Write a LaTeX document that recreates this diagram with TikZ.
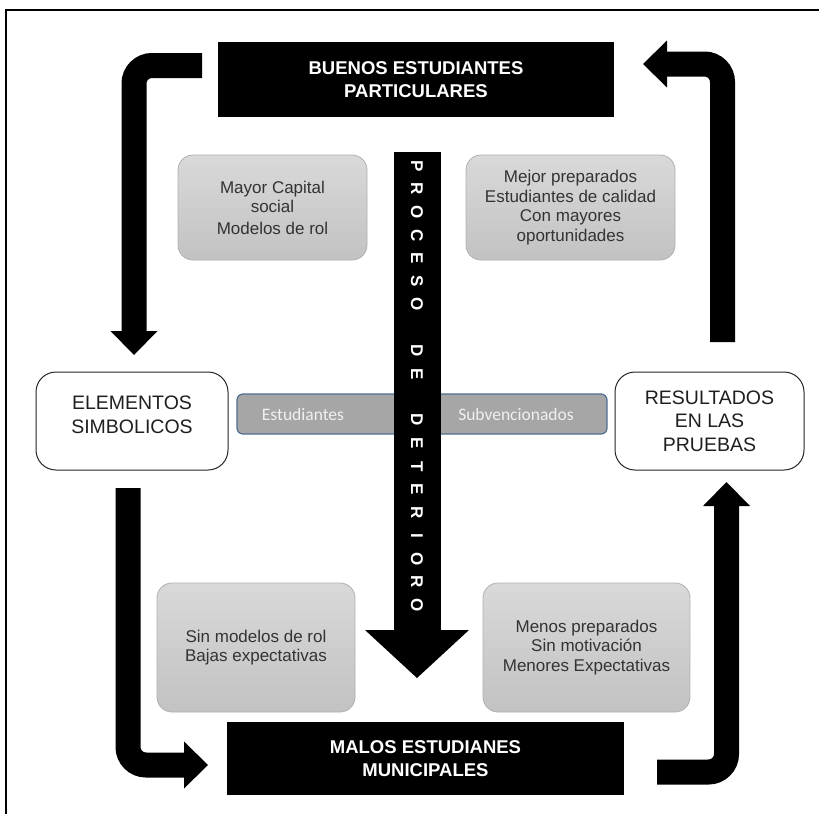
\documentclass[tikz,border=0pt]{standalone}
\usepackage{fontspec}
\setmainfont{Liberation Sans}
\newfontfamily\carl{Carlito}
\usetikzlibrary{arrows.meta}
\definecolor{graytxt}{HTML}{333333}
\definecolor{barfill}{HTML}{A6A6A6}
\definecolor{barline}{HTML}{4F6E92}
\definecolor{boxtop}{HTML}{D9D9D9}
\definecolor{boxbot}{HTML}{C2C2C2}
\definecolor{boxline}{HTML}{B0B0B0}
\definecolor{bartxt}{HTML}{F0F0F0}
\begin{document}
\begin{tikzpicture}[x=1pt,y=-1pt,
  blackbox/.style={fill=black,text=white,font=\fontsize{18.5}{23}\selectfont\bfseries,align=center,inner sep=0pt},
  whitebox/.style={draw=black!85,line width=1pt,rounded corners=20pt,fill=white,font=\fontsize{19.5}{23.5}\selectfont,text=black!88,align=center,inner sep=0pt},
  graybox/.style={draw=boxline,line width=0.8pt,rounded corners=15pt,top color=boxtop,bottom color=boxbot,font=\fontsize{17}{19.5}\selectfont,text=graytxt,align=center,inner sep=0pt},
  barbox/.style={draw=barline,line width=1.2pt,rounded corners=6pt,fill=barfill,inner sep=0pt},
  bartext/.style={font=\carl\fontsize{17.5}{20}\selectfont,text=bartxt,inner sep=0pt},
  bigarrow/.style={line width=25pt,rounded corners=18pt,-{Triangle[width=47pt,length=24pt,line width=0pt]}},
  letter/.style={font=\fontsize{17}{17}\selectfont\bfseries,text=white,rotate=-90,inner sep=0pt}
]
\useasboundingbox (0,0) rectangle (819,814);
\fill[white] (0,0) rectangle (819,814);
% outer frame
\draw[line width=2pt] (6,814) -- (6,10) -- (819,10);

% gray boxes
\node[graybox,minimum width=189pt,minimum height=105pt] (g1) at (272.5,207.5) {Mayor Capital\\social\\[2pt]Modelos de rol};
\node[graybox,minimum width=209pt,minimum height=105pt] (g2) at (570.5,207.5) {Mejor preparados\\Estudiantes de calidad\\Con mayores\\oportunidades};
\node[graybox,minimum width=198pt,minimum height=129pt] (g3) at (256,647.5) {Sin modelos de rol\\Bajas expectativas};
\node[graybox,minimum width=207pt,minimum height=129pt] (g4) at (586.5,647.5) {Menos preparados\\Sin motivación\\Menores Expectativas};

% middle bar
\node[barbox,minimum width=370pt,minimum height=40pt] (bar) at (422,414) {};
\node[bartext] (est) at (303,414) {Estudiantes};
\node[bartext] (sub) at (516,414) {Subvencionados};

% central arrow
\coordinate (c1) at (417,152);
\coordinate (c2) at (417,678);
\draw[line width=47pt,-{Triangle[width=104pt,length=48pt,line width=0pt]}] (c1) -- (c2);
\foreach \ch [count=\i from 0] in {P,R,O,C,E,S,O,{},D,E,{},D,E,T,E,R,I,O,R,O}
  \node[letter] (l\i) at (417,{166+23.1*\i}) {\ch};

% main boxes
\node[blackbox,minimum width=396pt,minimum height=75pt] (top) at (416,79.5) {BUENOS ESTUDIANTES\\PARTICULARES};
\node[blackbox,minimum width=397pt,minimum height=73pt] (bot) at (425.5,758.5) {MALOS ESTUDIANES\\MUNICIPALES};
\node[whitebox,minimum width=192pt,minimum height=98pt] (left) at (132,421) {};
\node[font=\fontsize{19.5}{23.5}\selectfont,text=black!88,align=center,inner sep=0pt] (lefttxt) at (132,415) {ELEMENTOS\\SIMBOLICOS};
\node[whitebox,minimum width=189pt,minimum height=98pt] (right) at (709.5,421) {RESULTADOS\\EN LAS\\PRUEBAS};

% cycle arrows
\coordinate (a1s) at (202,65.5);
\coordinate (a1c) at (134,65.5);
\coordinate (a1e) at (134,355);
\draw[bigarrow] (a1s) -- (a1c) -- (a1e);

\coordinate (a2s) at (128,488);
\coordinate (a2c) at (128,765);
\coordinate (a2e) at (208,765);
\draw[bigarrow] (a2s) -- (a2c) -- (a2e);

\coordinate (a3s) at (657,772);
\coordinate (a3c) at (726.5,772);
\coordinate (a3e) at (726.5,482);
\draw[bigarrow] (a3s) -- (a3c) -- (a3e);

\coordinate (a4s) at (722.5,342);
\coordinate (a4c) at (722.5,64);
\coordinate (a4e) at (643,64);
\draw[bigarrow] (a4s) -- (a4c) -- (a4e);
\end{tikzpicture}
\end{document}
